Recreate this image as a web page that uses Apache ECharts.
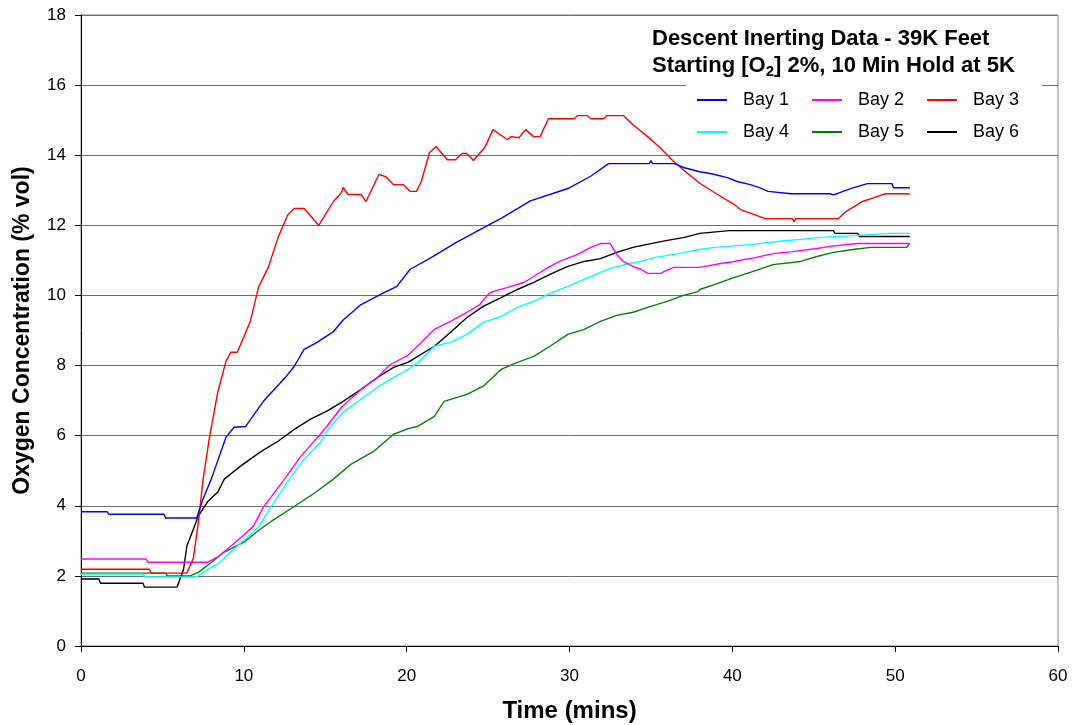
<!DOCTYPE html>
<html>
<head>
<meta charset="utf-8">
<script src="https://cdn.jsdelivr.net/npm/echarts@6/dist/echarts.min.js"></script>
<style>
  html, body { margin: 0; padding: 0; background: #fff; }
  #chart { width: 1073px; height: 725px; }
</style>
</head>
<body>
<div id="chart"></div>
<script>
// [time (mins), O2 % vol]
var bay1 = [[0,3.83],[1.6,3.83],[1.7,3.76],[5.1,3.76],[5.2,3.65],[7.1,3.65],[7.5,4.2],[8.0,4.76],[8.9,5.95],[9.4,6.24],[10.1,6.26],[11.2,6.98],[12.6,7.69],[13.1,7.98],[13.7,8.46],[14.5,8.66],[15.5,8.97],[16.1,9.3],[17.2,9.74],[18.4,10.03],[19.4,10.26],[20.2,10.74],[21.5,11.08],[23,11.5],[24.5,11.88],[25.8,12.2],[27.6,12.7],[29.9,13.05],[31.3,13.4],[32.4,13.76],[34.9,13.76],[35.0,13.85],[35.1,13.76],[36.4,13.76],[36.6,13.73],[37.0,13.65],[38.0,13.53],[38.7,13.47],[39.7,13.36],[40.3,13.25],[41.1,13.16],[41.7,13.07],[42.2,12.97],[43.6,12.9],[46.0,12.9],[46.2,12.87],[46.4,12.9],[46.8,12.97],[47.4,13.07],[48.3,13.19],[49.8,13.19],[49.9,13.07],[50.9,13.07]];
var bay2 = [[0,2.48],[4.0,2.48],[4.1,2.39],[7.8,2.39],[8.4,2.54],[9.6,3.0],[10.6,3.42],[11.2,3.96],[12.5,4.76],[13.5,5.41],[14.7,6.04],[15.1,6.27],[16.0,6.81],[17.2,7.32],[18.2,7.66],[19.0,8.03],[20.1,8.3],[20.9,8.66],[21.7,9.03],[22.7,9.26],[23.7,9.52],[24.5,9.74],[25.0,10.03],[25.3,10.11],[26.2,10.23],[27.2,10.37],[27.8,10.54],[28.8,10.83],[29.4,10.97],[30.5,11.17],[31.3,11.37],[31.9,11.48],[32.5,11.48],[32.9,11.17],[33.3,10.97],[33.9,10.83],[34.4,10.74],[34.8,10.63],[35.6,10.63],[35.8,10.68],[36.4,10.8],[38.0,10.8],[39.3,10.91],[40.1,10.97],[41.4,11.08],[42.6,11.2],[43.7,11.25],[45.2,11.34],[46.0,11.4],[47.7,11.48],[50.9,11.48]];
var bay3 = [[0,2.19],[4.2,2.19],[4.3,2.08],[6.5,2.08],[6.9,2.5],[7.2,3.5],[7.5,4.76],[7.9,5.98],[8.4,7.24],[8.9,8.12],[9.2,8.38],[9.6,8.38],[10.4,9.26],[10.9,10.23],[11.5,10.8],[12.1,11.65],[12.7,12.3],[13.1,12.48],[13.7,12.48],[14.6,12.0],[15.5,12.68],[16.0,12.93],[16.1,13.08],[16.4,12.88],[17.2,12.88],[17.5,12.68],[18.3,13.45],[18.7,13.39],[19.2,13.16],[19.8,13.16],[20.2,12.97],[20.6,12.97],[20.9,13.25],[21.4,14.07],[21.8,14.25],[22.5,13.87],[23.0,13.87],[23.4,14.05],[23.7,14.05],[24.1,13.85],[24.8,14.22],[25.3,14.73],[26.2,14.44],[26.4,14.53],[26.9,14.5],[27.3,14.73],[27.8,14.53],[28.2,14.53],[28.7,15.04],[30.3,15.04],[30.5,15.13],[31.1,15.13],[31.3,15.04],[32.1,15.04],[32.3,15.13],[33.3,15.13],[33.9,14.87],[34.8,14.53],[35.6,14.2],[36.4,13.82],[37.2,13.5],[38.0,13.2],[39.1,12.88],[40.1,12.6],[40.5,12.45],[41.4,12.3],[42.0,12.19],[43.7,12.19],[43.8,12.1],[43.9,12.19],[46.5,12.19],[47.0,12.4],[47.7,12.6],[48.0,12.68],[48.7,12.79],[49.4,12.9],[50.9,12.9]];
var bay4 = [[0,2.05],[3.8,2.05],[3.9,1.97],[7.1,1.97],[7.5,2.1],[8.4,2.34],[9.6,2.85],[10.9,3.39],[11.7,3.99],[12.8,4.76],[13.7,5.33],[14.7,5.81],[15.1,6.13],[16.1,6.67],[17.2,7.04],[18.2,7.38],[19.2,7.66],[20.1,7.89],[20.7,8.09],[21.7,8.55],[22.7,8.66],[23.7,8.89],[24.7,9.23],[25.8,9.4],[26.8,9.66],[27.8,9.83],[28.8,10.06],[29.9,10.26],[30.9,10.46],[31.9,10.66],[32.7,10.8],[33.7,10.91],[34.4,10.97],[35.2,11.08],[36.4,11.17],[37.6,11.28],[38.0,11.31],[38.9,11.37],[41.1,11.45],[42.8,11.54],[45.3,11.65],[49.7,11.77],[50.9,11.77]];
var bay5 = [[0,2.08],[5.2,2.08],[5.3,2.0],[6.7,2.0],[7.2,2.1],[7.8,2.31],[8.8,2.68],[10.0,2.96],[11.0,3.33],[11.7,3.56],[13.0,3.95],[14.3,4.35],[15.5,4.76],[16.6,5.19],[18.0,5.56],[19.2,6.04],[20.1,6.2],[20.7,6.27],[21.7,6.55],[22.3,6.98],[23.7,7.18],[24.7,7.41],[25.8,7.89],[26.8,8.09],[27.8,8.26],[28.8,8.55],[29.9,8.89],[30.9,9.03],[31.9,9.26],[32.9,9.43],[33.9,9.52],[35.0,9.69],[36.0,9.83],[37.0,10.0],[37.9,10.11],[38.0,10.17],[38.9,10.31],[40.1,10.51],[41.1,10.66],[42.5,10.88],[44.2,10.97],[45.2,11.11],[46.2,11.23],[47.4,11.31],[48.5,11.37],[50.7,11.37],[50.9,11.48]];
var bay6 = [[0,1.91],[1.1,1.91],[1.2,1.79],[3.8,1.79],[3.9,1.68],[5.9,1.68],[6.3,2.19],[6.5,2.85],[6.9,3.33],[7.2,3.7],[7.8,4.13],[8.4,4.39],[8.8,4.76],[9.8,5.13],[11.0,5.53],[12.1,5.84],[13.1,6.18],[14.1,6.47],[15.1,6.7],[16.1,6.98],[17.2,7.32],[18.2,7.66],[19.2,7.95],[20.1,8.1],[21.7,8.55],[22.7,8.95],[23.7,9.37],[24.7,9.69],[25.8,9.94],[26.8,10.17],[27.8,10.37],[28.8,10.6],[29.9,10.83],[30.9,10.97],[31.9,11.05],[32.9,11.23],[33.9,11.37],[35.0,11.48],[36.0,11.57],[37.0,11.65],[38.0,11.77],[39.8,11.85],[46.2,11.85],[46.3,11.77],[47.7,11.77],[47.8,11.68],[50.9,11.68]];

var bayNames = ['Bay 1', 'Bay 2', 'Bay 3', 'Bay 4', 'Bay 5', 'Bay 6'];
var bayData = [bay1, bay2, bay3, bay4, bay5, bay6];
var bayColors = ['#0000ff', '#ff00ff', '#ff0000', '#00ffff', '#008000', '#000000'];

var font = 'Arial, "Liberation Sans", sans-serif';
var myChart = echarts.init(document.getElementById('chart'));

var option = {
  animation: false,
  backgroundColor: '#fff',
  title: {
    left: 652,
    top: 25,
    padding: 0,
    text: '{b|Descent Inerting Data - 39K Feet}\n{b|Starting [O}{s|2}{b|] 2%, 10 Min Hold at 5K}',
    textStyle: {
      rich: {
        b: { fontFamily: font, fontSize: 22, fontWeight: 'bold', color: '#000', lineHeight: 27 },
        s: { fontFamily: font, fontSize: 15, fontWeight: 'bold', color: '#000', padding: [12, 0, 0, 0] }
      }
    }
  },
  legend: {
    data: bayNames,
    icon: 'rect',
    left: 686,
    top: 84,
    width: 350,
    padding: [0, 0, 0, 11],
    backgroundColor: '#fff',
    itemWidth: 30,
    itemHeight: 2,
    itemGap: 0,
    textStyle: {
      fontFamily: font,
      fontSize: 18,
      color: '#000',
      width: 62,
      lineHeight: 32,
      padding: [0, 7, 0, 11]
    }
  },
  grid: {
    left: 81,
    right: 15,
    top: 15,
    bottom: 79,
    outerBoundsMode: 'none',
    show: true,
    borderColor: '#808080',
    borderWidth: 1
  },
  xAxis: {
    type: 'value',
    min: 0,
    max: 60,
    interval: 10,
    name: 'Time (mins)',
    nameLocation: 'middle',
    nameGap: 53,
    nameTextStyle: { fontFamily: font, fontSize: 24, fontWeight: 'bold', color: '#000' },
    axisLine: { lineStyle: { color: '#000', width: 1 } },
    axisTick: { show: true, length: 6, lineStyle: { color: '#000' } },
    axisLabel: { fontFamily: font, fontSize: 17, color: '#000', margin: 22 },
    splitLine: { show: false }
  },
  yAxis: {
    type: 'value',
    min: 0,
    max: 18,
    interval: 2,
    name: 'Oxygen Concentration (% vol)',
    nameLocation: 'middle',
    nameGap: 47,
    nameTextStyle: { fontFamily: font, fontSize: 23, fontWeight: 'bold', color: '#000' },
    axisLine: { show: true, lineStyle: { color: '#000', width: 1 } },
    axisTick: { show: true, length: 6, lineStyle: { color: '#000' } },
    axisLabel: { fontFamily: font, fontSize: 17, color: '#000', margin: 15 },
    splitLine: { show: true, lineStyle: { color: '#6e6e6e', width: 1 } }
  },
  series: bayNames.map(function (name, i) {
    return {
      name: name,
      type: 'line',
      data: bayData[i],
      symbol: 'none',
      color: bayColors[i],
      lineStyle: { width: 1.4, color: bayColors[i] },
      z: 10 - i
    };
  })
};

myChart.setOption(option);
window.addEventListener('resize', function () { myChart.resize(); });
</script>
</body>
</html>
